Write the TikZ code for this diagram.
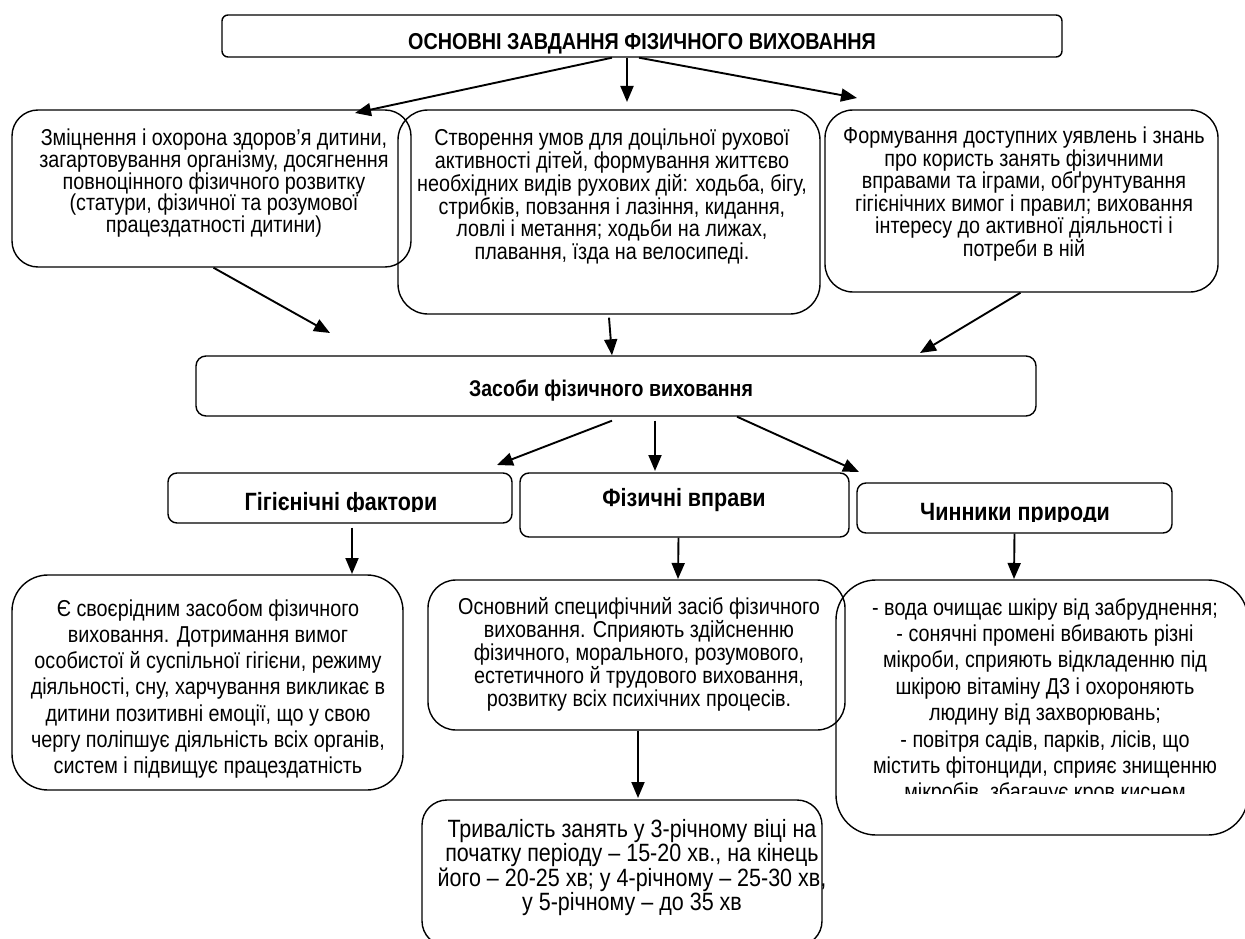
\documentclass[tikz,border=0pt]{standalone}
\usepackage{fontspec}
\setmainfont[FakeStretch=0.86]{Liberation Sans}
\usetikzlibrary{arrows.meta}
\begin{document}
\begin{tikzpicture}[x=1pt,y=-1pt,
  rbox/.style={draw, line width=1.4pt, rounded corners=#1, inner sep=0pt},
  body/.style={align=center, inner sep=0pt, anchor=north, font=\fontsize{23}{#1}\selectfont},
  bigbody/.style={align=center, inner sep=0pt, anchor=north, font=\fontsize{25}{#1}\selectfont},
  head/.style={inner sep=0pt, anchor=base, font=\fontsize{#1}{#1}\selectfont\bfseries},
  arr/.style={line width=1.9pt, -{Triangle[length=16pt,width=13pt]}}]
\useasboundingbox (0,0) rectangle (1245,939);
% boxes
\node[rbox=6pt, minimum width=840pt, minimum height=42pt] (top) at (642,36) {};
\node[head=23] (topt) at (642,50) {ОСНОВНІ ЗАВДАННЯ ФІЗИЧНОГО ВИХОВАННЯ};
\node[rbox=26pt, minimum width=399pt, minimum height=157pt] (A) at (211.5,188.5) {};
\node[body=21.7] (At) at (214,129) {Зміцнення і охорона здоров’я дитини,\\загартовування організму, досягнення\\повноцінного фізичного розвитку\\(статури, фізичної та розумової\\працездатності дитини)};
\node[rbox=30pt, minimum width=422pt, minimum height=204pt] (B) at (609,212) {};
\node[body=19.8] (Bt) at (612,129) {Створення умов для доцільної рухової\\активності дітей, формування життєво\\необхідних видів рухових дій: ходьба, бігу,\\стрибків, повзання і лазіння, кидання,\\ловлі і метання; ходьби на лижах,\\плавання, їзда на велосипеді.};
\node[rbox=28pt, minimum width=393pt, minimum height=182pt] (C) at (1021.5,201) {};
\node[body=20.6] (Ct) at (1024,127) {Формування доступних уявлень і знань\\про користь занять фізичними\\вправами та іграми, обґрунтування\\гігієнічних вимог і правил; виховання\\інтересу до активної діяльності і\\потреби в ній};
\node[rbox=10pt, minimum width=840pt, minimum height=60pt] (Z) at (616,386) {};
\node[head=22.7] (Zt) at (611,396) {Засоби фізичного виховання};
\node[rbox=9pt, minimum width=344pt, minimum height=50pt] (H) at (340,498) {};
\begin{scope}
\clip (160,470) rectangle (520,511);
\node[head=25] (Ht) at (341,510.5) {Гігієнічні фактори};
\end{scope}
\node[rbox=9pt, minimum width=329pt, minimum height=64pt] (P) at (684.5,505) {};
\node[head=25] (Pt) at (684,506.5) {Фізичні вправи};
\node[rbox=9pt, minimum width=315pt, minimum height=50pt] (N) at (1014.5,508) {};
\begin{scope}
\clip (850,480) rectangle (1180,521);
\node[head=25] (Nt) at (1015,520.5) {Чинники природи};
\end{scope}
\node[rbox=36pt, minimum width=391pt, minimum height=215pt] (D) at (207.5,682.5) {};
\node[body=26.3] (Dt) at (208,599) {Є своєрідним засобом фізичного\\виховання. Дотримання вимог\\особистої й суспільної гігієни, режиму\\діяльності, сну, харчування викликає в\\дитини позитивні емоції, що у свою\\чергу поліпшує діяльність всіх органів,\\систем і підвищує працездатність};
\node[rbox=28pt, minimum width=417pt, minimum height=150pt] (E) at (636.5,655) {};
\node[body=23] (Et) at (639,597) {Основний специфічний засіб фізичного\\виховання. Сприяють здійсненню\\фізичного, морального, розумового,\\естетичного й трудового виховання,\\розвитку всіх психічних процесів.};
\node[rbox=25pt, minimum width=400pt, minimum height=146pt] (F) at (622,873) {};
\node[bigbody=23] (Ft) at (632,819) {Тривалість занять у 3-річному віці на\\початку періоду – 15-20 хв., на кінець\\його – 20-25 хв; у 4-річному – 25-30 хв,\\у 5-річному – до 35 хв};
\node[rbox=40pt, minimum width=412pt, minimum height=255pt] (G) at (1042,707.5) {};
\begin{scope}
\clip (840,585) rectangle (1240,793);
\node[body=26.4] (Gt) at (1045,598) {- вода очищає шкіру від забруднення;\\- сонячні промені вбивають різні\\мікроби, сприяють відкладенню під\\шкірою вітаміну Д3 і охороняють\\людину від захворювань;\\- повітря садів, парків, лісів, що\\містить фітонциди, сприяє знищенню\\мікробів, збагачує кров киснем};
\end{scope}
% arrow ends
\coordinate (eA) at (355,113);
\coordinate (eB) at (627,102);
\coordinate (eC) at (857,98);
\coordinate (eZ1) at (330,333);
\coordinate (eZ3) at (920,353);
\coordinate (eH) at (497,465);
\coordinate (eP) at (655,471);
\coordinate (eN) at (859,472);
\coordinate (eD) at (352,574);
\coordinate (eE) at (678,579);
\coordinate (eG) at (1014,579);
\coordinate (eF) at (638,798);
% arrows
\draw[arr] ([xshift=-30pt]top.south) -- (eA);
\draw[arr] ([xshift=-15pt]top.south) -- (eB);
\draw[arr] ([xshift=-3pt]top.south) -- (eC);
\draw[arr] ([xshift=2pt]A.south) -- (eZ1);
\draw[arr] ([yshift=-3pt]B.south) -- ([xshift=-4pt]Z.north);
\draw[arr] ([xshift=-1pt]C.south) -- (eZ3);
\draw[arr] ([xshift=-4pt,yshift=-4pt]Z.south) -- (eH);
\draw[arr] ([xshift=39pt,yshift=-4pt]Z.south) -- (eP);
\draw[arr] ([xshift=121pt]Z.south) -- (eN);
\draw[arr] ([xshift=12pt,yshift=-4pt]H.south) -- (eD);
\draw[arr] ([xshift=-6pt]P.south) -- (eE);
\draw[arr] (N.south) -- (eG);
\draw[arr] ([xshift=1.5pt]E.south) -- (eF);
\end{tikzpicture}
\end{document}
